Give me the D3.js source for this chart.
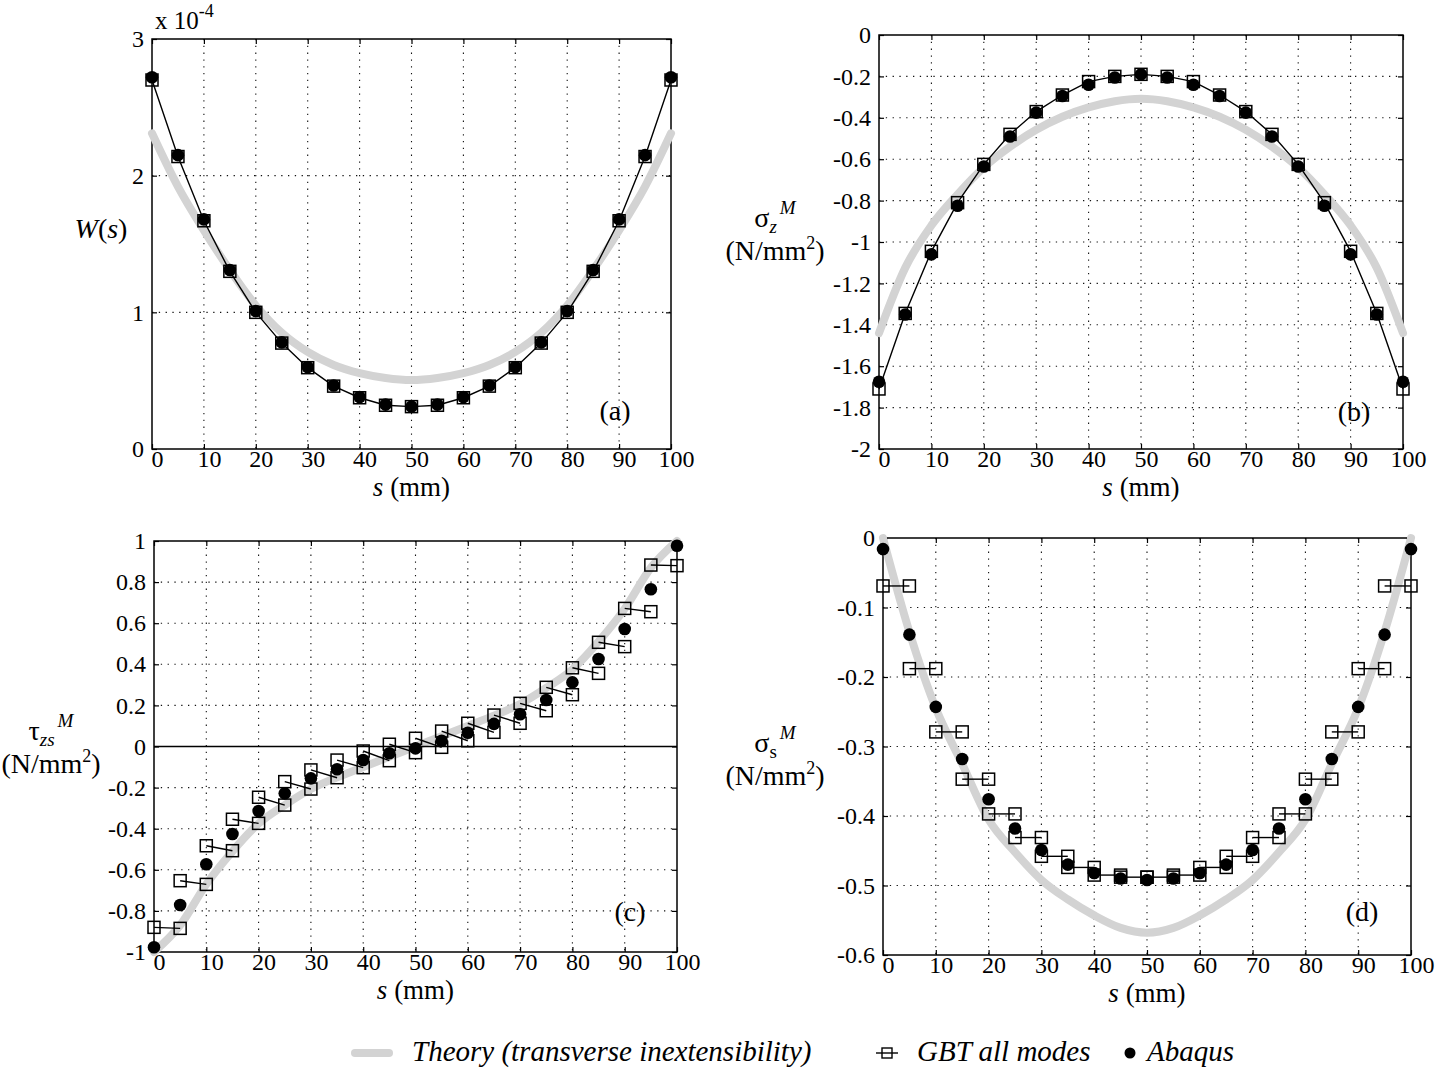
<!DOCTYPE html>
<html>
<head>
<meta charset="utf-8">
<script src="https://cdn.jsdelivr.net/npm/d3@7"></script>
<style>
  body { margin: 0; background: #fff; }
  svg text { font-family: 'Liberation Serif', 'Times New Roman', serif; fill: #000; }
</style>
</head>
<body>
<svg id="fig" width="1439" height="1068"></svg>
<script>
// nodal positions along the wall (mm)
var sNodes = [0, 5, 10, 15, 20, 25, 30, 35, 40, 45, 50, 55, 60, 65, 70, 75, 80, 85, 90, 95, 100];
// GBT elements (c, d) start at these nodes and end 5 mm later
var elemStart = [0, 5, 10, 15, 20, 25, 30, 35, 40, 45, 50, 55, 60, 65, 70, 75, 80, 85, 90, 95];

var xTicks = [0, 10, 20, 30, 40, 50, 60, 70, 80, 90, 100];

// (a) W(s), x 10^-4
var wTicks = [0, 1, 2, 3];
var wTheory = [2.31, 1.92, 1.60, 1.31, 1.05, 0.85, 0.71, 0.615, 0.555, 0.52, 0.505, 0.52, 0.555, 0.615, 0.71, 0.85, 1.05, 1.31, 1.60, 1.92, 2.31];
var wGbt = [2.70, 2.14, 1.67, 1.30, 1.00, 0.775, 0.595, 0.46, 0.375, 0.32, 0.31, 0.32, 0.375, 0.46, 0.595, 0.775, 1.00, 1.30, 1.67, 2.14, 2.70];
var wAbaqus = [2.72, 2.15, 1.68, 1.31, 1.01, 0.78, 0.60, 0.465, 0.38, 0.325, 0.31, 0.325, 0.38, 0.465, 0.60, 0.78, 1.01, 1.31, 1.68, 2.15, 2.72];

// (b) sigma_z
var szTicks = [0, -0.2, -0.4, -0.6, -0.8, -1, -1.2, -1.4, -1.6, -1.8, -2];
var szTheory = [-1.44, -1.125, -0.92, -0.77, -0.64, -0.54, -0.458, -0.395, -0.35, -0.32, -0.308, -0.32, -0.35, -0.395, -0.458, -0.54, -0.64, -0.77, -0.92, -1.125, -1.44];
var szGbt = [-1.71, -1.345, -1.045, -0.81, -0.625, -0.48, -0.37, -0.29, -0.225, -0.20, -0.19, -0.20, -0.225, -0.29, -0.37, -0.48, -0.625, -0.81, -1.045, -1.345, -1.71];
var szAbaqus = [-1.675, -1.35, -1.06, -0.825, -0.635, -0.49, -0.375, -0.295, -0.24, -0.205, -0.19, -0.205, -0.24, -0.295, -0.375, -0.49, -0.635, -0.825, -1.06, -1.35, -1.675];

// (c) tau_zs
var tauTicks = [-1, -0.8, -0.6, -0.4, -0.2, 0, 0.2, 0.4, 0.6, 0.8, 1];
var tauTheory = [-1.0, -0.87, -0.67, -0.51, -0.375, -0.285, -0.207, -0.15, -0.10, -0.05, 0, 0.05, 0.10, 0.15, 0.207, 0.285, 0.375, 0.51, 0.67, 0.87, 1.0];
var tauGbtStart = [-0.88, -0.653, -0.483, -0.354, -0.247, -0.171, -0.114, -0.066, -0.022, 0.011, 0.040, 0.075, 0.113, 0.153, 0.21, 0.288, 0.383, 0.507, 0.672, 0.883];
var tauGbtEnd = [-0.885, -0.671, -0.507, -0.374, -0.285, -0.207, -0.152, -0.103, -0.069, -0.030, -0.004, 0.028, 0.069, 0.113, 0.174, 0.252, 0.356, 0.486, 0.656, 0.880];
var tauAbaqus = [-0.977, -0.771, -0.573, -0.426, -0.314, -0.228, -0.155, -0.111, -0.066, -0.033, -0.009, 0.028, 0.067, 0.11, 0.157, 0.226, 0.312, 0.426, 0.572, 0.765, 0.977];

// (d) sigma_s
var ssTicks = [0, -0.1, -0.2, -0.3, -0.4, -0.5, -0.6];
var ssTheory = [0, -0.135, -0.245, -0.325, -0.405, -0.452, -0.492, -0.52, -0.543, -0.561, -0.568, -0.561, -0.543, -0.52, -0.492, -0.452, -0.405, -0.325, -0.245, -0.135, 0];
var ssGbt = [-0.069, -0.188, -0.279, -0.347, -0.397, -0.431, -0.458, -0.474, -0.485, -0.488, -0.488, -0.485, -0.474, -0.458, -0.431, -0.397, -0.347, -0.279, -0.188, -0.069];
var ssAbaqus = [-0.016, -0.139, -0.243, -0.318, -0.376, -0.418, -0.449, -0.470, -0.482, -0.490, -0.492, -0.490, -0.482, -0.470, -0.449, -0.418, -0.376, -0.318, -0.243, -0.139, -0.016];

var GRAY = '#d3d3d3';
var svg = d3.select('#fig');

function fmt(v) { return String(Math.round(v * 10) / 10); }

function drawPanel(p) {
  var g = svg.append('g');
  var x = d3.scaleLinear().domain([0, 100]).range([p.x0, p.x1]);
  var y = d3.scaleLinear().domain([d3.min(p.yTicks), d3.max(p.yTicks)]).range([p.y1, p.y0]);

  // dotted grid, inner ticks only
  g.selectAll('.vg').data(xTicks.slice(1, -1)).enter().append('line')
    .attr('x1', x).attr('x2', x).attr('y1', p.y0).attr('y2', p.y1)
    .attr('stroke', '#111').attr('stroke-width', 1.1).attr('stroke-dasharray', '1.3,5.5');
  var yInner = p.yTicks.filter(function(v){ return v !== y.domain()[0] && v !== y.domain()[1]; });
  g.selectAll('.hg').data(yInner).enter().append('line')
    .attr('y1', y).attr('y2', y).attr('x1', p.x0).attr('x2', p.x1)
    .attr('stroke', '#111').attr('stroke-width', 1.1).attr('stroke-dasharray', '1.3,5.5');

  // axes on four sides, ticks pointing in
  var bottom = g.append('g').attr('transform', 'translate(0,' + p.y1 + ')')
    .call(d3.axisBottom(x).tickValues(xTicks).tickSizeInner(-5).tickSizeOuter(0).tickPadding(1));
  var left = g.append('g').attr('transform', 'translate(' + p.x0 + ',0)')
    .call(d3.axisLeft(y).tickValues(p.yTicks).tickSizeInner(-5).tickSizeOuter(0).tickPadding(8).tickFormat(fmt));
  g.append('g').attr('transform', 'translate(0,' + p.y0 + ')')
    .call(d3.axisTop(x).tickValues(xTicks).tickSizeInner(-5).tickSizeOuter(0).tickFormat(''));
  g.append('g').attr('transform', 'translate(' + p.x1 + ',0)')
    .call(d3.axisRight(y).tickValues(p.yTicks).tickSizeInner(-5).tickSizeOuter(0).tickFormat(''));
  g.selectAll('.domain').remove();
  g.selectAll('.tick line').attr('stroke', '#000').attr('stroke-width', 1.2);
  bottom.selectAll('text').attr('font-size', 24).attr('font-family', null).attr('dx', 5);
  left.selectAll('text').attr('font-size', 24).attr('font-family', null);

  g.append('rect').attr('x', p.x0).attr('y', p.y0).attr('width', p.x1 - p.x0).attr('height', p.y1 - p.y0)
    .attr('fill', 'none').attr('stroke', '#000').attr('stroke-width', 1.5);

  // theory curve
  var line = d3.line().x(function(d){ return x(d[0]); }).y(function(d){ return y(d[1]); }).curve(d3.curveMonotoneX);
  g.append('path').datum(sNodes.map(function(s, i){ return [s, p.theory[i]]; }))
    .attr('d', line).attr('fill', 'none').attr('stroke', GRAY).attr('stroke-width', 8)
    .attr('stroke-linecap', 'round').attr('stroke-linejoin', 'round');

  if (p.zeroLine) {
    g.append('line').attr('x1', p.x0).attr('x2', p.x1).attr('y1', y(0)).attr('y2', y(0))
      .attr('stroke', '#000').attr('stroke-width', 1.5);
  }

  // GBT: either one connected polyline or one segment per element
  var pts = [];
  var segs = [];
  if (p.gbt) {
    pts = sNodes.map(function(s, i){ return [s, p.gbt[i]]; });
    segs.push(pts);
  } else {
    elemStart.forEach(function(s, i){
      var seg = [[s, p.gbtStart[i]], [s + 5, p.gbtEnd[i]]];
      segs.push(seg);
      pts = pts.concat(seg);
    });
  }
  var lin = d3.line().x(function(d){ return x(d[0]); }).y(function(d){ return y(d[1]); });
  g.selectAll('.seg').data(segs).enter().append('path')
    .attr('d', lin).attr('fill', 'none').attr('stroke', '#000').attr('stroke-width', 1.4);
  g.selectAll('.sq').data(pts).enter().append('rect')
    .attr('x', function(d){ return x(d[0]) - 6; }).attr('y', function(d){ return y(d[1]) - 6; })
    .attr('width', 12).attr('height', 12)
    .attr('fill', 'none').attr('stroke', '#000').attr('stroke-width', 1.5);

  // Abaqus dots
  g.selectAll('.dot').data(sNodes).enter().append('circle')
    .attr('cx', x).attr('cy', function(s, i){ return y(p.abaqus[i]); })
    .attr('r', 6.3).attr('fill', '#000');

  // x title and panel tag
  var xt = g.append('text').attr('x', (p.x0 + p.x1) / 2).attr('y', p.y1 + 47)
    .attr('text-anchor', 'middle').attr('font-size', 27);
  xt.append('tspan').attr('font-style', 'italic').text('s');
  xt.append('tspan').text(' (mm)');
  g.append('text').attr('x', p.tag[0]).attr('y', p.tag[1]).attr('text-anchor', 'middle')
    .attr('font-size', 28).text(p.tagText);
  return g;
}

drawPanel({x0: 152, x1: 671, y0: 39, y1: 449, yTicks: wTicks, theory: wTheory, gbt: wGbt, abaqus: wAbaqus,
  tag: [615, 420], tagText: '(a)'});
drawPanel({x0: 879, x1: 1403, y0: 35, y1: 449, yTicks: szTicks, theory: szTheory, gbt: szGbt, abaqus: szAbaqus,
  tag: [1354, 421], tagText: '(b)'});
drawPanel({x0: 154, x1: 677, y0: 541, y1: 952, yTicks: tauTicks, theory: tauTheory, gbtStart: tauGbtStart,
  gbtEnd: tauGbtEnd, abaqus: tauAbaqus, zeroLine: true, tag: [630, 921], tagText: '(c)'});
drawPanel({x0: 883, x1: 1411, y0: 538, y1: 955, yTicks: ssTicks, theory: ssTheory, gbtStart: ssGbt,
  gbtEnd: ssGbt, abaqus: ssAbaqus, tag: [1362, 921], tagText: '(d)'});

// multiplier over panel (a)
var mult = svg.append('text').attr('x', 155).attr('y', 29).attr('font-size', 25);
mult.append('tspan').text('x 10');
mult.append('tspan').attr('font-size', 18).attr('dy', -12).text('-4');

// y titles
var wl = svg.append('text').attr('x', 101).attr('y', 238).attr('text-anchor', 'middle').attr('font-size', 28);
wl.append('tspan').attr('font-style', 'italic').text('W');
wl.append('tspan').text('(');
wl.append('tspan').attr('font-style', 'italic').text('s');
wl.append('tspan').text(')');

function stressLabel(cx, by, sym, sub, subItalic) {
  var t = svg.append('text').attr('x', cx).attr('y', by).attr('text-anchor', 'middle').attr('font-size', 28);
  t.append('tspan').text(sym);
  t.append('tspan').attr('font-size', 19).attr('font-style', subItalic ? 'italic' : null).attr('dy', 6).text(sub);
  t.append('tspan').attr('font-size', 19).attr('font-style', 'italic').attr('dy', -19).attr('dx', 3).text('M');
  var u = svg.append('text').attr('x', cx).attr('y', by + 33).attr('text-anchor', 'middle').attr('font-size', 28);
  u.append('tspan').text('(N/mm');
  u.append('tspan').attr('font-size', 18).attr('dy', -11).text('2');
  u.append('tspan').attr('dy', 11).text(')');
}
stressLabel(775, 227, 'σ', 'z', true);
stressLabel(51, 740, 'τ', 'zs', true);
stressLabel(775, 752, 'σ', 's', false);

// legend
var lg = svg.append('g');
lg.append('line').attr('x1', 355).attr('x2', 389).attr('y1', 1053).attr('y2', 1053)
  .attr('stroke', GRAY).attr('stroke-width', 8).attr('stroke-linecap', 'round');
lg.append('text').attr('x', 412).attr('y', 1061).attr('font-size', 29).attr('font-style', 'italic')
  .text('Theory (transverse inextensibility)');
lg.append('line').attr('x1', 876).attr('x2', 898).attr('y1', 1053).attr('y2', 1053)
  .attr('stroke', '#000').attr('stroke-width', 1.4);
lg.append('rect').attr('x', 882).attr('y', 1048).attr('width', 10).attr('height', 10)
  .attr('fill', 'none').attr('stroke', '#000').attr('stroke-width', 1.4);
lg.append('text').attr('x', 917).attr('y', 1061).attr('font-size', 29).attr('font-style', 'italic')
  .text('GBT all modes');
lg.append('circle').attr('cx', 1130).attr('cy', 1053).attr('r', 5.5).attr('fill', '#000');
lg.append('text').attr('x', 1147).attr('y', 1061).attr('font-size', 29).attr('font-style', 'italic')
  .text('Abaqus');
</script>
</body>
</html>
